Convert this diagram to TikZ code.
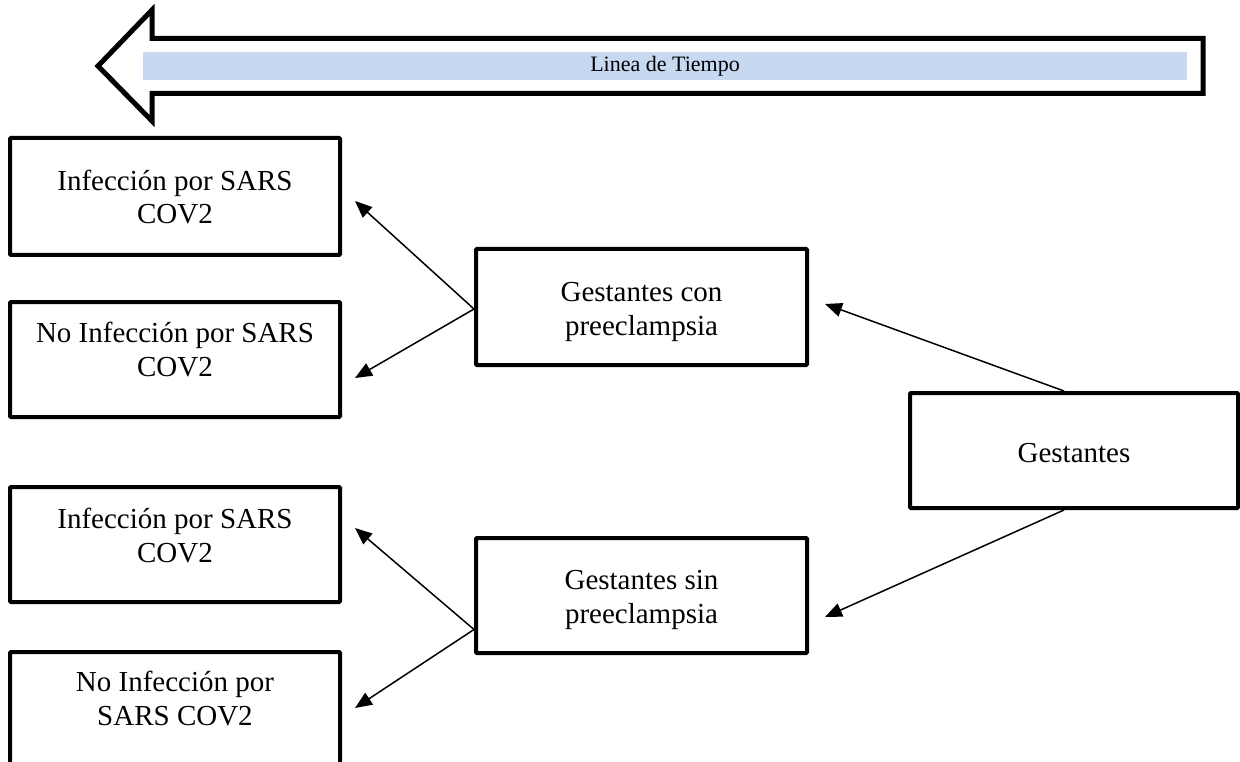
\documentclass[tikz,border=0pt]{standalone}
\usepackage{fontspec}
\setmainfont{Liberation Serif}
\usetikzlibrary{arrows.meta}
\definecolor{barblue}{RGB}{198,217,241}
\tikzset{
  box/.style={draw=black, line width=4pt, minimum width=330pt, minimum height=115pt, inner sep=0pt, rounded corners=1pt},
  boxtext/.style={align=center, font=\fontsize{29}{33.5}\selectfont, inner sep=0pt},
  conn/.style={line width=1.5pt, -{Triangle[length=17pt,width=14pt]}},
  bigarrow/.style={draw=black, line width=5pt, line join=miter, fill=white}
}
\begin{document}
\begin{tikzpicture}[x=1pt,y=-1pt]
\useasboundingbox (0,0) rectangle (1240,762);
\clip (0,0) rectangle (1240,762);
% timeline arrow
\draw[bigarrow] (98,66) -- (152,10) -- (152,38.5) -- (1203,38.5) -- (1203,93.5) -- (152,93.5) -- (152,121) -- cycle;
\fill[barblue] (143,52) rectangle (1187,80);
\node[font=\fontsize{22}{26}\selectfont, inner sep=0pt] (tl) at (665,66) {Linea de Tiempo};
% left boxes
\node[box, minimum height=117pt] (a1) at (175,196.5) {};
\node[boxtext, anchor=base] (a1t) at (175,224) {Infección por SARS\\COV2};
\node[box] (a2) at (175,359.5) {};
\node[boxtext, anchor=base] (a2t) at (175,376) {No Infección por SARS\\COV2};
\node[box] (b1) at (175,544.5) {};
\node[boxtext, anchor=base] (b1t) at (175,562) {Infección por SARS\\COV2};
\node[box] (b2) at (175,709.5) {};
\node[boxtext, anchor=base] (b2t) at (175,725) {No Infección por\\SARS COV2};
% middle and right boxes
\node[box, minimum width=331pt, minimum height=116pt] (gcon) at (641.5,307) {};
\node[boxtext, anchor=base] (gcont) at (641.5,335) {Gestantes con\\preeclampsia};
\node[box, minimum width=331pt] (gsin) at (641.5,595.5) {};
\node[boxtext, anchor=base] (gsint) at (641.5,623) {Gestantes sin\\preeclampsia};
\node[box, minimum width=328pt] (g) at (1074,450.5) {};
\node[boxtext, anchor=base] (gt) at (1074,462) {Gestantes};
% arrow tips
\coordinate (ta1) at (355,201);
\coordinate (ta2) at (355,378);
\coordinate (tb1) at (355,528);
\coordinate (tb2) at (355,708);
\coordinate (tcon) at (825,304);
\coordinate (tsin) at (825,617);
\coordinate (scon) at ([yshift=-2pt]gcon.west);
\coordinate (ssin) at ([yshift=-34pt]gsin.west);
% connectors
\draw[conn] ([xshift=-10pt]g.north) -- (tcon);
\draw[conn] ([xshift=-10pt]g.south) -- (tsin);
\draw[conn] (scon) -- (ta1);
\draw[conn] (scon) -- (ta2);
\draw[conn] (ssin) -- (tb1);
\draw[conn] (ssin) -- (tb2);
\end{tikzpicture}
\end{document}
